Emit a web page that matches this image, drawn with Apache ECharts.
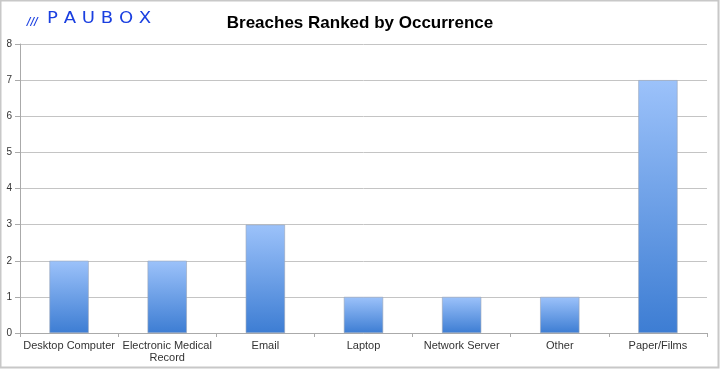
<!DOCTYPE html>
<html><head><meta charset="utf-8">
<script src="https://cdn.jsdelivr.net/npm/echarts@6/dist/echarts.min.js"></script>
<style>html,body{margin:0;padding:0;background:#fff}#c{width:720px;height:369px}</style>
</head><body><div id="c"></div>
<script>
const categories = ['Desktop Computer', 'Electronic Medical\nRecord', 'Email', 'Laptop', 'Network Server', 'Other', 'Paper/Films'];
const values = [2, 2, 3, 1, 1, 1, 7];
const yTicks = [0, 1, 2, 3, 4, 5, 6, 7, 8];
const titleText = 'Breaches Ranked by Occurrence';
const logoText = 'PAUBOX';

const chart = echarts.init(document.getElementById('c'), null, {renderer: 'canvas'});
chart.setOption({
  animation: false,
  title: {
    text: titleText, left: 'center', top: 10,
    textStyle: {fontFamily: 'Liberation Sans, Arial, sans-serif', fontSize: 17, fontWeight: 'bold', color: '#000'}
  },
  graphic: [
    {type: 'rect', shape: {x: 0.5, y: 0.5, width: 718, height: 367}, style: {fill: 'none', stroke: '#c8c8c8', lineWidth: 2}, silent: true},
    {type: 'text', x: 27, y: 17, style: {text: '///', fontFamily: 'DejaVu Sans', fontSize: 10, fontStyle: 'italic', fontWeight: 'bold', fill: '#1a3fe0'}},
    {type: 'text', x: 47, y: 11, scaleX: 1.13, originX: 0, originY: 0,
     style: {text: logoText.split('').join(' '), fontFamily: 'DejaVu Sans', fontSize: 16, fontWeight: 'normal', fill: '#1a3fe0'}}
  ],
  grid: {left: 20, right: 13, top: 44, bottom: 36, containLabel: false},
  xAxis: {
    type: 'category', data: categories,
    axisLine: {lineStyle: {color: '#aaa', width: 1}},
    axisTick: {show: true, alignWithLabel: false, length: 4, lineStyle: {color: '#aaa'}},
    axisLabel: {fontFamily: 'Liberation Sans, Arial, sans-serif', fontSize: 11, color: '#333', margin: 7, interval: 0, lineHeight: 12}
  },
  yAxis: {
    type: 'value', min: yTicks[0], max: yTicks[yTicks.length - 1], interval: 1,
    axisLine: {show: true, lineStyle: {color: '#aaa'}},
    axisTick: {show: true, length: 5, lineStyle: {color: '#aaa'}},
    splitLine: {lineStyle: {color: '#c4c4c4', width: 1}},
    axisLabel: {fontFamily: 'Liberation Sans, Arial, sans-serif', fontSize: 10, color: '#333', margin: 8}
  },
  series: [{
    type: 'bar', data: values, barWidth: '40%',
    itemStyle: {
      color: new echarts.graphic.LinearGradient(0, 0, 0, 1, [
        {offset: 0, color: '#9cc2fa'},
        {offset: 1, color: '#3d7dd3'}
      ]),
      borderColor: '#9aa6b8', borderWidth: 0.6
    }
  }]
});
</script></body></html>
